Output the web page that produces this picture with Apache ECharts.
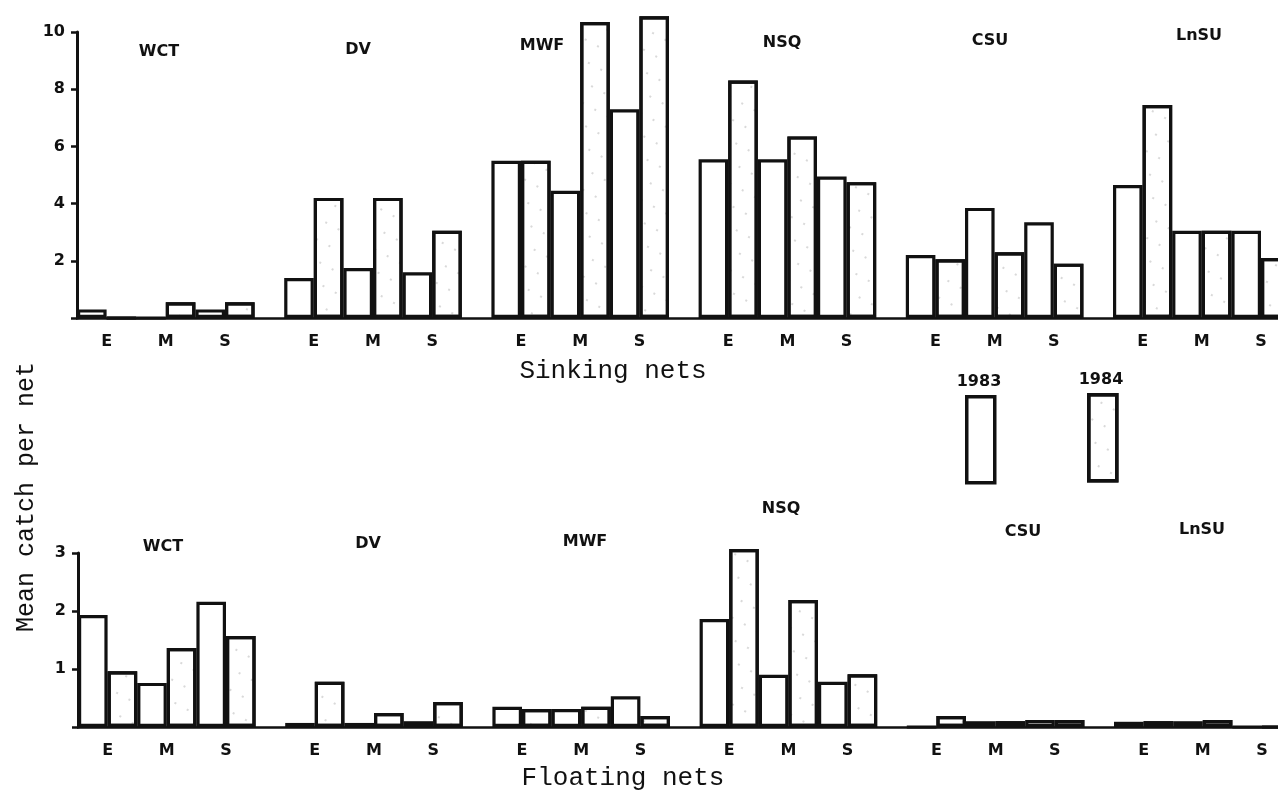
<!DOCTYPE html>
<html><head><meta charset="utf-8">
<script src="https://cdn.jsdelivr.net/npm/echarts@6/dist/echarts.min.js"></script>
<style>html,body{margin:0;padding:0;background:#fff}#c{width:1278px;height:795px}</style>
</head><body><div id="c"></div>
<script>
// ---- data ----
const species = ['WCT', 'DV', 'MWF', 'NSQ', 'CSU', 'LnSU'];
const periods = ['E', 'M', 'S'];
const years = ['1983', '1984'];
// values per species: [E, M, S]
const sinking1983 = [[0.3, 0, 0.3], [1.4, 1.75, 1.6], [5.5, 4.45, 7.3], [5.55, 5.55, 4.95], [2.2, 3.85, 3.35], [4.65, 3.05, 3.05]];
const sinking1984 = [[0, 0.55, 0.55], [4.2, 4.2, 3.05], [5.5, 10.35, 10.55], [8.3, 6.35, 4.75], [2.05, 2.3, 1.9], [7.45, 3.05, 2.1]];
const floating1983 = [[1.93, 0.76, 2.16], [0.07, 0.07, 0.1], [0.35, 0.31, 0.53], [1.86, 0.9, 0.78], [0, 0.1, 0.12], [0.09, 0.1, 0]];
const floating1984 = [[0.96, 1.36, 1.57], [0.78, 0.24, 0.43], [0.31, 0.35, 0.19], [3.07, 2.19, 0.91], [0.19, 0.1, 0.12], [0.1, 0.12, 0]];
const sinkAxis = {min: 0, max: 10, interval: 2};
const floatAxis = {min: 0, max: 3, interval: 1};
const panelTitles = ['Sinking nets', 'Floating nets'];
const yTitle = 'Mean catch per net';

// ---- build slot layout: per species 6 bars + 1 gap slot ----
const perGroup = 7;
const nSlots = species.length * perGroup - 1;
const slotCats = [];
for (let i = 0; i < nSlots; i++) {
  const g = Math.floor(i / perGroup), r = i % perGroup;
  slotCats.push(r < 6 ? species[g] + ' ' + periods[Math.floor(r / 2)] + ' ' + years[r % 2] : '');
}
const labelCats = [];
for (let i = 0; i <= nSlots; i++) {
  const r = i % perGroup;
  labelCats.push(r === 1 ? periods[0] : r === 3 ? periods[1] : r === 5 ? periods[2] : '');
}
function slots(arr, yearIdx) {
  const out = new Array(nSlots).fill(null);
  arr.forEach((vals, g) => vals.forEach((v, p) => { out[g * perGroup + p * 2 + yearIdx] = v; }));
  return out;
}

const INK = '#111';
const sansB = '"DejaVu Sans", "Liberation Sans", sans-serif';
const mono = '"Liberation Mono", "DejaVu Sans Mono", monospace';
const decal84 = {symbol: 'circle', symbolSize: 1, color: 'rgba(0,0,0,0.2)', dashArrayX: [[1.4, 12]], dashArrayY: [1.4, 17], rotation: 0.5};
const style83 = {color: '#fff', borderColor: INK, borderWidth: 3.2};
const style84 = {color: '#fff', borderColor: INK, borderWidth: 3.2, decal: decal84};

const gridW = 1213.6;
const grids = [
  {left: 77, top: 32, width: gridW, height: 286, outerBoundsMode: 'none', containLabel: false},
  {left: 78, top: 553, width: gridW, height: 174, outerBoundsMode: 'none', containLabel: false}
];
function xAxes(gi) {
  return [
    {type: 'category', gridIndex: gi, data: slotCats, position: 'bottom', boundaryGap: true,
      axisLine: {show: true, lineStyle: {color: INK, width: 2.5}}, axisTick: {show: false}, axisLabel: {show: false}},
    {type: 'category', gridIndex: gi, data: labelCats, position: 'bottom', boundaryGap: false,
      axisLine: {show: false}, axisTick: {show: false},
      axisLabel: {interval: 0, margin: 16, color: INK, fontWeight: 'bold', fontSize: 16, fontFamily: sansB}}
  ];
}
function yAxis(gi, ax) {
  return {type: 'value', gridIndex: gi, min: ax.min, max: ax.max, interval: ax.interval,
    axisLine: {show: true, lineStyle: {color: INK, width: 3}},
    axisTick: {show: true, length: 6, lineStyle: {color: INK, width: 2.5}},
    splitLine: {show: false},
    axisLabel: {margin: 12, color: INK, fontWeight: 'bold', fontSize: 16, fontFamily: sansB,
      formatter: v => (v === 0 ? '' : String(v))}};
}
function bar(name, data, xi, yi, st) {
  return {type: 'bar', name, data, xAxisIndex: xi, yAxisIndex: yi, barWidth: '100%', barGap: '-100%',
    clip: false, itemStyle: st, emphasis: {disabled: true}, silent: true};
}

const speciesPosTop = [[159, 52], [358, 50], [542, 46], [782, 43], [990, 41], [1199, 36]];
const speciesPosBot = [[163, 547], [368, 544], [585, 542], [781, 509], [1023, 532], [1202, 530]];
const graphics = [];
species.forEach((s, i) => {
  graphics.push({type: 'text', x: speciesPosTop[i][0], y: speciesPosTop[i][1],
    style: {text: s, font: 'bold 16px ' + sansB, fill: INK, align: 'center', verticalAlign: 'middle'}});
  graphics.push({type: 'text', x: speciesPosBot[i][0], y: speciesPosBot[i][1],
    style: {text: s, font: 'bold 16px ' + sansB, fill: INK, align: 'center', verticalAlign: 'middle'}});
});
graphics.push({type: 'text', x: 613, y: 371, style: {text: panelTitles[0], font: '26px ' + mono, fill: INK, align: 'center', verticalAlign: 'middle'}});
graphics.push({type: 'text', x: 623, y: 778, style: {text: panelTitles[1], font: '26px ' + mono, fill: INK, align: 'center', verticalAlign: 'middle'}});
graphics.push({type: 'text', x: 26, y: 497, rotation: Math.PI / 2, style: {text: yTitle, font: '25px ' + mono, fill: INK, align: 'center', verticalAlign: 'middle'}});
graphics.push({type: 'text', x: 979, y: 382, style: {text: years[0], font: 'bold 16px ' + sansB, fill: INK, align: 'center', verticalAlign: 'middle'}});
graphics.push({type: 'text', x: 1101, y: 380, style: {text: years[1], font: 'bold 16px ' + sansB, fill: INK, align: 'center', verticalAlign: 'middle'}});

const legendBase = {orient: 'vertical', padding: 0, itemWidth: 28, itemHeight: 86, icon: 'rect', selectedMode: false,
  formatter: () => '', textStyle: {fontSize: 1}};
const option = {
  animation: false,
  backgroundColor: '#fff',
  grid: grids,
  xAxis: [...xAxes(0), ...xAxes(1)],
  yAxis: [yAxis(0, sinkAxis), yAxis(1, floatAxis)],
  legend: [
    Object.assign({}, legendBase, {data: [years[0]], left: 965, top: 395, itemStyle: {color: '#fff', borderColor: INK, borderWidth: 3.5}}),
    Object.assign({}, legendBase, {data: [years[1]], left: 1087, top: 393, itemStyle: {color: '#fff', borderColor: INK, borderWidth: 3.5}})
  ],
  series: [
    bar(years[0], slots(sinking1983, 0), 0, 0, style83),
    bar(years[1], slots(sinking1984, 1), 0, 0, style84),
    bar(years[0], slots(floating1983, 0), 2, 1, style83),
    bar(years[1], slots(floating1984, 1), 2, 1, style84)
  ],
  graphic: graphics
};
const chart = echarts.init(document.getElementById('c'), null, {renderer: 'canvas'});
chart.setOption(option);
</script></body></html>
